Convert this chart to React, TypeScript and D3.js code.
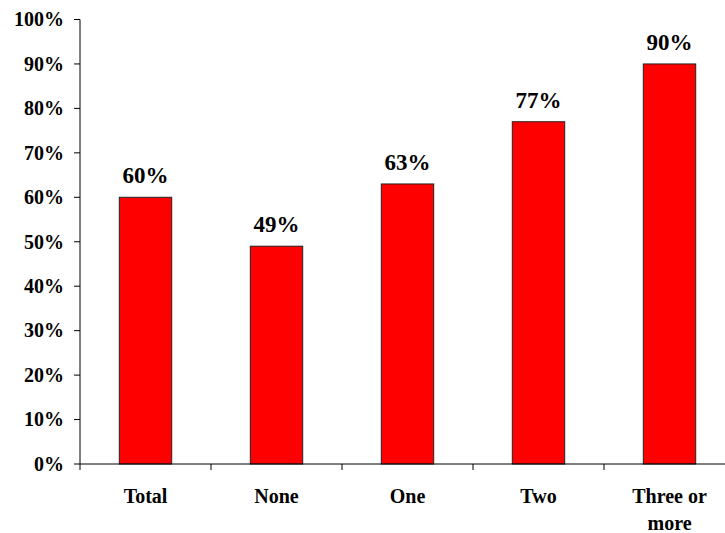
import React from "react";
import * as d3 from "d3";

const categories: string[][] = [["Total"], ["None"], ["One"], ["Two"], ["Three or", "more"]];
const values: number[] = [60, 49, 63, 77, 90];
const yTicks: number[] = [0, 10, 20, 30, 40, 50, 60, 70, 80, 90, 100];

const W = 725;
const H = 533;
const left = 80;
const right = 735;
const top = 19.5;
const bottom = 464;
const font = "'Liberation Serif', 'Times New Roman', serif";

export default function App() {
  const keys = categories.map((c) => c.join(" "));
  const x = d3.scaleBand<string>().domain(keys).range([left, right]).paddingInner(0.6).paddingOuter(0.3);
  const y = d3.scaleLinear().domain([0, 100]).range([bottom, top]);
  const step = x.step();
  const boundaries = d3.range(keys.length + 1).map((i) => left + i * step);

  return (
    <svg width={W} height={H} style={{ position: "absolute", left: 0, top: 0, background: "#fff" }}>
      {values.map((v, i) => (
        <rect
          key={keys[i]}
          x={x(keys[i])!}
          y={y(v)}
          width={x.bandwidth()}
          height={bottom - y(v)}
          fill="#FF0000"
          stroke="#222"
          strokeWidth={1}
        />
      ))}
      {values.map((v, i) => (
        <text
          key={"l" + i}
          x={x(keys[i])! + x.bandwidth() / 2}
          y={y(v) - 14}
          textAnchor="middle"
          fontFamily={font}
          fontWeight="bold"
          fontSize={23}
          fill="#000"
        >
          {v}%
        </text>
      ))}
      <line x1={left} x2={left} y1={top} y2={bottom} stroke="#000" strokeWidth={1} />
      {yTicks.map((t) => (
        <g key={"y" + t}>
          <line x1={left - 6} x2={left} y1={y(t)} y2={y(t)} stroke="#000" strokeWidth={1} />
          <text
            x={left - 16}
            y={y(t)}
            dy="0.34em"
            textAnchor="end"
            fontFamily={font}
            fontWeight="bold"
            fontSize={20}
            fill="#000"
          >
            {t}%
          </text>
        </g>
      ))}
      <line x1={left} x2={right} y1={bottom} y2={bottom} stroke="#000" strokeWidth={1} />
      {boundaries.map((b, i) => (
        <line key={"xt" + i} x1={b} x2={b} y1={bottom} y2={bottom + 6} stroke="#000" strokeWidth={1} />
      ))}
      {categories.map((lines, i) => (
        <text
          key={"c" + i}
          x={x(keys[i])! + x.bandwidth() / 2}
          y={502.5}
          textAnchor="middle"
          fontFamily={font}
          fontWeight="bold"
          fontSize={20}
          fill="#000"
        >
          {lines.map((ln, j) => (
            <tspan key={j} x={x(keys[i])! + x.bandwidth() / 2} dy={j === 0 ? 0 : 27.5}>
              {ln}
            </tspan>
          ))}
        </text>
      ))}
    </svg>
  );
}
